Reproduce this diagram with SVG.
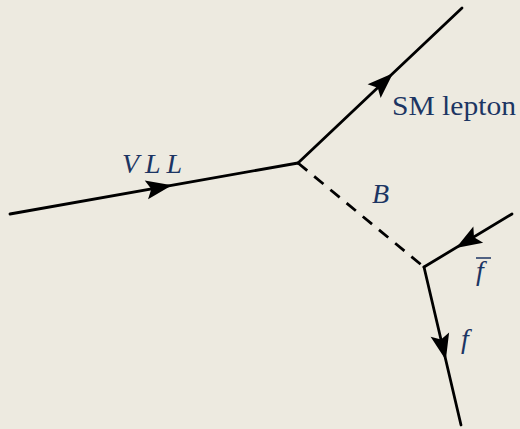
<svg xmlns="http://www.w3.org/2000/svg" width="520" height="429" viewBox="0 0 520 429">
<style>
.ln{stroke:#000;stroke-width:2.8;fill:none;stroke-linecap:round}
.ds{stroke:#000;stroke-width:2.8;fill:none;stroke-dasharray:12 9}
.lbl{font-family:"Liberation Serif",serif;fill:#1c3563}
.it{font-style:italic}
.ah{fill:#000}
</style>
<defs>
<path id="arr" d="M0,0 L-26,-9.5 L-21,0 L-26,9.5 Z"/>
</defs>
<rect width="520" height="429" fill="#EDEAE0"/>
<g id="connectors">
<line class="ln" x1="10" y1="214" x2="298" y2="163"/>
<line class="ln" x1="298" y1="163" x2="462" y2="8"/>
<line class="ds" x1="298" y1="163" x2="424" y2="267"/>
<line class="ln" x1="512" y1="214" x2="424" y2="267"/>
<line class="ln" x1="424" y1="267" x2="461" y2="425"/>
<use href="#arr" class="ah" transform="translate(172,185.3) rotate(-10.04)"/>
<use href="#arr" class="ah" transform="translate(393,73.2) rotate(-43.4)"/>
<use href="#arr" class="ah" transform="translate(456,248) rotate(148.9)"/>
<use href="#arr" class="ah" transform="translate(445.8,360) rotate(76.8)"/>
</g>
<g id="label-VLL"><text class="lbl it" x="122" y="173" font-size="28" textLength="60" lengthAdjust="spacing">VLL</text></g>
<g id="label-SM"><text class="lbl" x="392" y="115" font-size="28" textLength="124" lengthAdjust="spacingAndGlyphs">SM lepton</text></g>
<g id="label-B"><text class="lbl it" x="372" y="203" font-size="28">B</text></g>
<g id="label-fbar"><text class="lbl it" x="476" y="280" font-size="28">f</text><line x1="476" y1="258" x2="491" y2="258" stroke="#1c3563" stroke-width="1.5"/></g>
<g id="label-f"><text class="lbl it" x="461" y="348" font-size="28">f</text></g>
</svg>
